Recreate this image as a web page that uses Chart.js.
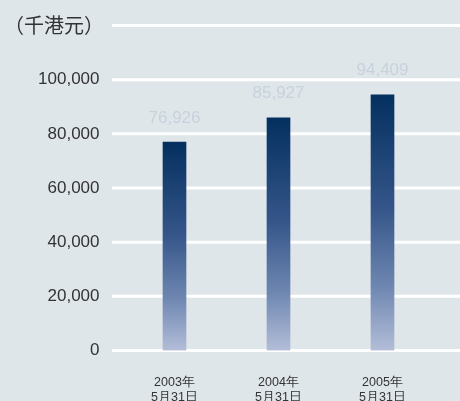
<!DOCTYPE html>
<html>
<head>
<meta charset="utf-8">
<script src="https://cdn.jsdelivr.net/npm/chart.js@4/dist/chart.umd.min.js"></script>
<style>
  html, body { margin: 0; padding: 0; background: #dfe6ea; }
  #wrap { width: 460px; height: 401px; }
</style>
</head>
<body>
<div id="wrap"><canvas id="assetsChart"></canvas></div>
<script>
const categories = [["2003年", "5月31日"], ["2004年", "5月31日"], ["2005年", "5月31日"]];
const values = [76926, 85927, 94409];
const unitLabel = "（千港元）";
const yMax = 120000;
const yStep = 20000;

function barGradient(ctx) {
    const chart = ctx.chart;
    const y = chart.scales.y;
    if (!chart.chartArea || !y || ctx.raw === undefined) return "#36568a";
    const top = y.getPixelForValue(ctx.raw);
    const base = y.getPixelForValue(0);
    const g = chart.ctx.createLinearGradient(0, top, 0, base);
    g.addColorStop(0, "#03305f");
    g.addColorStop(0.45, "#36568a");
    g.addColorStop(0.75, "#6e87b1");
    g.addColorStop(1, "#b3bdd8");
    return g;
}

// white grid lines run past the plot area on both sides
const wideGrid = {
    id: "wideGrid",
    beforeDatasetsDraw(chart) {
        const c = chart.ctx;
        const y = chart.scales.y;
        c.save();
        c.strokeStyle = "#ffffff";
        c.lineWidth = 3;
        y.ticks.forEach(t => {
            const py = y.getPixelForValue(t.value);
            c.beginPath();
            c.moveTo(112, py);
            c.lineTo(chart.width, py);
            c.stroke();
        });
        c.restore();
    }
};

const extras = {
    id: "extras",
    afterDatasetsDraw(chart) {
        const c = chart.ctx;
        const y = chart.scales.y;
        c.save();
        c.fillStyle = "#333333";
        c.font = '20px "Noto Sans CJK SC"';
        c.textAlign = "left";
        c.textBaseline = "middle";
        c.fillText(unitLabel, 4, y.getPixelForValue(yMax));

        c.fillStyle = "#c8d2dc";
        c.font = '17px "Liberation Sans"';
        c.textAlign = "center";
        chart.getDatasetMeta(0).data.forEach((bar, i) => {
            c.fillText(values[i].toLocaleString("en-US"), bar.x, bar.y - 24);
        });
        c.restore();
    }
};

new Chart(document.getElementById("assetsChart"), {
    type: "bar",
    data: {
        labels: categories,
        datasets: [{
            data: values,
            backgroundColor: barGradient,
            barThickness: 23,
            borderWidth: 0
        }]
    },
    options: {
        responsive: true,
        maintainAspectRatio: false,
        animation: false,
        layout: { padding: { top: 25.5, right: 25.5, left: 0, bottom: 0 } },
        plugins: { legend: { display: false }, tooltip: { enabled: false } },
        scales: {
            x: {
                grid: { display: false },
                border: { display: false },
                ticks: {
                    color: "#333333",
                    font: { family: "Liberation Sans", size: 12.5, lineHeight: 1.2 },
                    padding: 17,
                    maxRotation: 0
                },
                afterFit: s => { s.height = 50.5; s.paddingLeft = 0; s.paddingRight = 0; }
            },
            y: {
                min: 0,
                max: yMax,
                grid: { display: false, drawTicks: false },
                border: { display: false },
                ticks: {
                    stepSize: yStep,
                    color: "#333333",
                    font: { family: "Liberation Sans", size: 17 },
                    padding: 23,
                    callback: v => v === yMax ? "" : v.toLocaleString("en-US")
                },
                afterFit: s => { s.width = 122.5; s.paddingTop = 0; s.paddingBottom = 0; }
            }
        }
    },
    plugins: [wideGrid, extras]
});
</script>
</body>
</html>
